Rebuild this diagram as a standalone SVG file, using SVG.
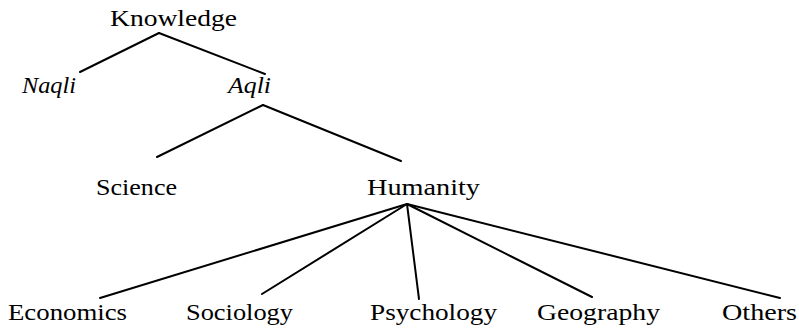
<svg xmlns="http://www.w3.org/2000/svg" width="799" height="331" viewBox="0 0 799 331">
<style>
text{font-family:"Liberation Serif","Times New Roman",serif;font-size:23px;fill:#000}
.i{font-style:italic}
.c line{stroke:#000;stroke-width:2;stroke-linecap:round}
</style>
<rect width="799" height="331" fill="#fff"/>
<g class="c" id="connectors">
<line x1="159" y1="33" x2="80" y2="72"/>
<line x1="159" y1="33" x2="265" y2="74"/>
<line x1="263" y1="105" x2="157" y2="157"/>
<line x1="263" y1="105" x2="401" y2="161"/>
<line x1="407" y1="204" x2="100" y2="298"/>
<line x1="407" y1="204" x2="262" y2="294"/>
<line x1="407" y1="204" x2="419" y2="299"/>
<line x1="407" y1="204" x2="592" y2="297"/>
<line x1="407" y1="204" x2="780" y2="298"/>
</g>
<g id="knowledge"><text x="110" y="26" textLength="127" lengthAdjust="spacingAndGlyphs">Knowledge</text></g>
<g id="naqli"><text class="i" x="22" y="93" textLength="54" lengthAdjust="spacingAndGlyphs">Naqli</text></g>
<g id="aqli"><text class="i" x="228" y="93" textLength="43" lengthAdjust="spacingAndGlyphs">Aqli</text></g>
<g id="science"><text x="96" y="195" textLength="81" lengthAdjust="spacingAndGlyphs">Science</text></g>
<g id="humanity"><text x="367" y="195" textLength="113" lengthAdjust="spacingAndGlyphs">Humanity</text></g>
<g id="economics"><text x="8" y="320" textLength="119" lengthAdjust="spacingAndGlyphs">Economics</text></g>
<g id="sociology"><text x="186" y="320" textLength="107" lengthAdjust="spacingAndGlyphs">Sociology</text></g>
<g id="psychology"><text x="370" y="320" textLength="127" lengthAdjust="spacingAndGlyphs">Psychology</text></g>
<g id="geography"><text x="537" y="320" textLength="123" lengthAdjust="spacingAndGlyphs">Geography</text></g>
<g id="others"><text x="722" y="320" textLength="75" lengthAdjust="spacingAndGlyphs">Others</text></g>
</svg>
